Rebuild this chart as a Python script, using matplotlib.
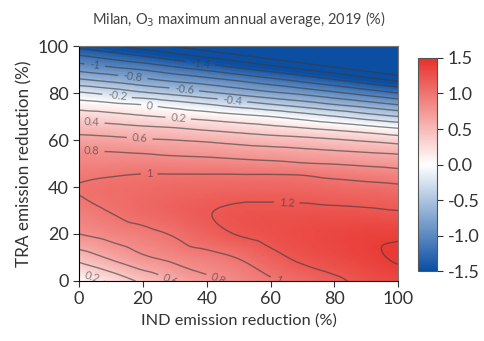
import numpy as np
import matplotlib
matplotlib.use("Agg")
import matplotlib.pyplot as plt
import matplotlib.tri as mtri
from matplotlib.colors import LinearSegmentedColormap

plt.rcParams['font.family'] = ['Lato', 'DejaVu Sans']
plt.rcParams['axes.unicode_minus'] = False

# emission reduction grid (%)
ind = [0, 10, 20, 30, 40, 50, 60, 70, 80, 90, 100]
tra = [0, 10, 20, 30, 40, 45, 50, 55, 60, 65, 70, 75, 80, 85, 90, 95, 100]

# O3 change (%), one row per TRA value, one column per IND value
o3 = [
    [0.04, 0.24, 0.44, 0.61, 0.75, 0.86, 0.97, 1.07, 1.16, 1.26, 1.32],
    [0.48, 0.63, 0.77, 0.86, 0.93, 1.01, 1.14, 1.24, 1.30, 1.36, 1.42],
    [0.80, 0.87, 0.94, 1.02, 1.13, 1.21, 1.26, 1.30, 1.33, 1.36, 1.37],
    [0.93, 1.01, 1.08, 1.14, 1.19, 1.23, 1.24, 1.24, 1.23, 1.22, 1.20],
    [1.01, 1.04, 1.06, 1.08, 1.09, 1.10, 1.10, 1.09, 1.07, 1.05, 1.03],
    [0.96, 0.99, 1.01, 1.01, 1.01, 1.01, 1.01, 1.00, 0.96, 0.93, 0.89],
    [0.88, 0.89, 0.90, 0.89, 0.88, 0.86, 0.84, 0.81, 0.79, 0.76, 0.73],
    [0.81, 0.80, 0.78, 0.75, 0.73, 0.70, 0.68, 0.65, 0.62, 0.59, 0.56],
    [0.67, 0.65, 0.62, 0.60, 0.57, 0.53, 0.49, 0.46, 0.42, 0.37, 0.31],
    [0.51, 0.48, 0.44, 0.41, 0.36, 0.31, 0.26, 0.21, 0.15, 0.08, 0.00],
    [0.31, 0.27, 0.22, 0.17, 0.12, 0.06, 0.00, -0.09, -0.19, -0.30, -0.40],
    [0.10, 0.05, 0.00, -0.09, -0.18, -0.28, -0.38, -0.48, -0.59, -0.69, -0.80],
    [-0.17, -0.26, -0.37, -0.46, -0.56, -0.66, -0.76, -0.85, -0.96, -1.08, -1.20],
    [-0.53, -0.62, -0.72, -0.81, -0.89, -0.99, -1.10, -1.22, -1.34, -1.47, -1.60],
    [-0.85, -0.93, -1.01, -1.12, -1.23, -1.35, -1.47, -1.59, -1.72, -1.86, -2.00],
    [-1.13, -1.24, -1.35, -1.47, -1.59, -1.71, -1.84, -1.97, -2.11, -2.25, -2.40],
    [-1.47, -1.58, -1.70, -1.82, -1.94, -2.07, -2.20, -2.35, -2.49, -2.64, -2.80],
]

levels = [-1.8, -1.6, -1.4, -1.2, -1.0, -0.8, -0.6, -0.4, -0.2, 0.0,
          0.2, 0.4, 0.6, 0.8, 1.0, 1.2, 1.4]

cmap = LinearSegmentedColormap.from_list(
    "bwr_o3", ["#0b4ea2", "#ffffff", "#e8302a"])

fig = plt.figure(figsize=(4.85, 3.41), dpi=100)
ax = fig.add_axes([0.163, 0.176, 0.658, 0.689])
cax = fig.add_axes([0.862, 0.205, 0.039, 0.625])

X, Y = np.meshgrid(ind, tra)
Z = np.array(o3)
tri = mtri.Triangulation(X.ravel(), Y.ravel())
interp = mtri.CubicTriInterpolator(tri, Z.ravel(), kind='geom')
refiner = mtri.UniformTriRefiner(tri)
tri_f, z_f = refiner.refine_field(Z.ravel(), triinterpolator=interp, subdiv=3)

mesh = ax.tripcolor(tri_f, z_f, cmap=cmap, vmin=-1.5, vmax=1.5,
                    shading='gouraud', rasterized=True)
cs = ax.tricontour(tri_f, z_f, levels=levels, colors='#3a3a3a',
                   linewidths=1.0, alpha=0.6, linestyles='solid')
label_pos = [(5, 93), (17, 88), (33, 82), (48, 76), (12, 80), (22, 74),
             (31, 68.5), (4, 68), (19, 61), (4, 56), (22, 45.5), (65, 33),
             (4, 2), (29, 2), (44, 2), (63, 2), (38, 92)]
ax.clabel(cs, fmt='%g', fontsize=8, inline=True, manual=label_pos)

ax.set_xlim(0, 100)
ax.set_ylim(0, 100)
ax.set_xticks([0, 20, 40, 60, 80, 100])
ax.set_yticks([0, 20, 40, 60, 80, 100])
ax.tick_params(labelsize=13, color='#333333', labelcolor='#333333', length=4)
for s in ['top', 'right']:
    ax.spines[s].set_color('#777777')
ax.set_xlabel('IND emission reduction (%)', fontsize=11.8, color='#333333')
ax.set_ylabel('TRA emission reduction (%)', fontsize=12.3, color='#333333')
ax.set_title('Milan, O$_3$ maximum annual average, 2019 (%)', fontsize=10.5,
             color='#444444', pad=16)

cb = fig.colorbar(mesh, cax=cax, ticks=[-1.5, -1.0, -0.5, 0.0, 0.5, 1.0, 1.5])
cb.ax.set_yticklabels(['-1.5', '-1.0', '-0.5', '0.0', '0.5', '1.0', '1.5'])
cb.ax.tick_params(labelsize=13, color='#333333', labelcolor='#333333', length=4)
cb.outline.set_edgecolor('#555555')

fig.savefig('out.png', dpi=100)
